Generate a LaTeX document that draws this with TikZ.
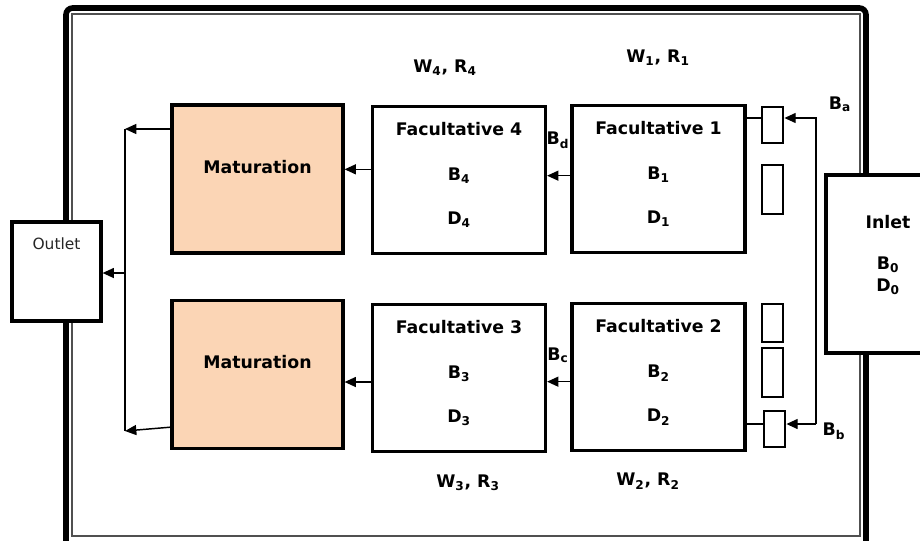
\documentclass[tikz,border=0pt]{standalone}
\usepackage{fontspec}
\setmainfont{DejaVu Sans}
\usepackage{xcolor}
\usetikzlibrary{positioning}
\usetikzlibrary{arrows.meta}
\definecolor{peach}{HTML}{FBD5B5}
\definecolor{framegray}{HTML}{505050}
\tikzset {
  % pond boxes
  pond/.style = {draw, line width=2.4pt, fill=white, inner sep=0pt},
  mature/.style = {fill=peach, minimum width=128.25pt, minimum height=111pt},
  fac/.style = {minimum width=129.75pt, minimum height=110.5pt},
  % small gates next to the first ponds
  valve/.style = {draw, line width=2.1pt, fill=white, minimum width=15.75pt, inner sep=0pt},
  % text
  lbl/.style = {font=\fontsize{13}{15}\selectfont\bfseries, inner sep=1pt},
  % flow lines
  flow/.style = {line width=1.1pt, -{Triangle[length=8.5pt, width=7.5pt]}},
  pipe/.style = {line width=1.1pt},
}

\begin{document}
\begin{tikzpicture}[x=0.75pt, y=-0.75pt]
        \useasboundingbox (0,0) rectangle (920,540);
        % frame of the plant
        \draw[line width=4.2pt, rounded corners=5pt] (66,8) rectangle (866,548);
        \draw[framegray, line width=1.1pt] (72,14) rectangle (860,536);

        \node[pond, minimum width=66.75pt, minimum height=74.25pt] (outlet) at (56.5,271.5) {};
        \node[lbl, font=\fontsize{11.6}{13}\selectfont, text=black!85] (outt) at ([yshift=20.6pt]outlet.center) {Outlet};
        \node[pond, minimum width=82.5pt, minimum height=133.5pt] (inlet) at (881,264) {};
        \node[lbl] (inlt) at (888,222) {Inlet};
        \node[lbl] (inb) at (888,265) {B\textsubscript{0}};
        \node[lbl] (ind) at (888,287) {D\textsubscript{0}};

        \node[pond, mature] (mat1) at (257.5,179) {};
        \node[lbl] at ([yshift=9pt]mat1.center) {Maturation};
        \node[pond, mature] (mat2) at (257.5,374.5) {};
        \node[lbl] at ([yshift=9pt]mat2.center) {Maturation};

        \foreach \n/\x/\y in {1/658.5/179, 2/658.5/377, 3/459/378, 4/459/180} {
          \node[pond, fac] (fac\n) at (\x,\y) {};
          \node[lbl] at ([yshift=38.5pt]fac\n.center) {Facultative \n};
          \node[lbl] at ([yshift=3pt]fac\n.center) {B\textsubscript{\n}};
          \node[lbl] at ([yshift=-30pt]fac\n.center) {D\textsubscript{\n}};
        }

        \node[valve, minimum height=27pt] (v1) at (772.5,125) {};
        \node[valve, minimum height=36.75pt] (v2) at (772.5,189.5) {};
        \node[valve, minimum height=28.5pt] (v3) at (772.5,323) {};
        \node[valve, minimum height=36.75pt] (v4) at (772.5,372.5) {};
        \node[valve, minimum height=27pt] (v5) at (774.5,429) {};

        \node[lbl] (wr1) at (658,58) {W\textsubscript{1}, R\textsubscript{1}};
        \node[lbl] (wr4) at (445,68) {W\textsubscript{4}, R\textsubscript{4}};
        \node[lbl] (wr3) at (468,483) {W\textsubscript{3}, R\textsubscript{3}};
        \node[lbl] (wr2) at (648,481) {W\textsubscript{2}, R\textsubscript{2}};
        \node[lbl] (ba) at (840,104) {B\textsubscript{a}};
        \node[lbl] (bb) at (834,431) {B\textsubscript{b}};
        \node[lbl] (bd) at (558,140) {B\textsubscript{d}};
        \node[lbl] (bc) at (558,355) {B\textsubscript{c}};

        % feed from the inlet side
        \coordinate (fa) at (816,118);
        \coordinate (fb) at (816,424);
        \draw[flow] (fb) -- (fa) -- (fa -| v1.east);
        \draw[flow] (fb) -- (fb -| v5.east);
        \draw[pipe] (v1.west |- fa) -- (fa -| fac1.east);
        \draw[pipe] (v5.west |- fb) -- (fb -| fac2.east);

        \draw[flow] ([yshift=2.5pt]fac1.west) -- ([yshift=2.5pt]fac1.west -| fac4.east);
        \draw[flow] ([yshift=-3.5pt]fac2.west) -- ([yshift=-3.5pt]fac2.west -| fac3.east);
        \draw[flow] ([yshift=8pt]fac4.west) -- ([yshift=8pt]fac4.west -| mat1.east);
        \draw[flow] ([yshift=-3pt]fac3.west) -- ([yshift=-3pt]fac3.west -| mat2.east);

        % collector to the outlet
        \coordinate (ct) at (125,129);
        \coordinate (cb) at (125,431);
        \coordinate (co) at (125,273);
        \draw[pipe] (ct) -- (cb);
        \draw[flow] (mat1.west |- ct) -- (ct);
        \draw[flow] ([yshift=-39.5pt]mat2.west) -- (cb);
        \draw[flow] (co) -- (co -| outlet.east);
      \end{tikzpicture}
\end{document}
